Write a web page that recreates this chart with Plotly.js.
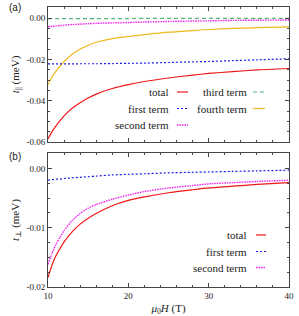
<!DOCTYPE html>
<html>
<head>
<meta charset="utf-8">
<script src="https://cdn.plot.ly/plotly-3.0.1.min.js"></script>
<style>html,body{margin:0;padding:0;background:#fff;}#chart{width:299px;height:316px;}</style>
</head>
<body>
<div id="chart"></div>
<script>
// Field values (T)
const H = [10, 10.5, 11, 11.5, 12, 13, 14, 15, 16, 18, 20, 22, 25, 28, 30, 33, 36, 40];

// Panel (a): t_parallel (meV)
const parTotal  = [-0.0585, -0.0550, -0.0522, -0.0497, -0.0474, -0.0437, -0.0410, -0.0387, -0.0368, -0.0341, -0.0322, -0.0307, -0.0290, -0.0276, -0.0268, -0.0259, -0.0251, -0.0244];
const parFirst  = [-0.0222, -0.0222, -0.0222, -0.0222, -0.0222, -0.0222, -0.0221, -0.0221, -0.0221, -0.0220, -0.0219, -0.0218, -0.0215, -0.0212, -0.0210, -0.0206, -0.0202, -0.0197];
const parSecond = [-0.0042, -0.0040, -0.0038, -0.0036, -0.0034, -0.0031, -0.0029, -0.0027, -0.0025, -0.0023, -0.0021, -0.0019, -0.0016, -0.0014, -0.0013, -0.0011, -0.0010, -0.0009];
const parThird  = [-0.0002, -0.0002, -0.0002, -0.0002, -0.0002, -0.0002, -0.0002, -0.0002, -0.0002, -0.0002, -0.0002, -0.0001, -0.0001, -0.0001, -0.0001, -0.0001, -0.0001, -0.0001];
const parFourth = [-0.0322, -0.0285, -0.0257, -0.0232, -0.0210, -0.0175, -0.0150, -0.0131, -0.0117, -0.0099, -0.0089, -0.0080, -0.0068, -0.0060, -0.0055, -0.0050, -0.0046, -0.0042];

// Panel (b): t_perp (meV)
const perpTotal  = [-0.0184, -0.0163, -0.0147, -0.0135, -0.0124, -0.0107, -0.0094, -0.0084, -0.0076, -0.0063, -0.0054, -0.0048, -0.0041, -0.0036, -0.0033, -0.0030, -0.0027, -0.0024];
const perpFirst  = [-0.0020, -0.0019, -0.0018, -0.0018, -0.0017, -0.0016, -0.0015, -0.0014, -0.0013, -0.0011, -0.0010, -0.0009, -0.00075, -0.00066, -0.00060, -0.00050, -0.00042, -0.0003];
const perpSecond = [-0.0162, -0.0143, -0.0128, -0.0116, -0.0105, -0.0088, -0.0076, -0.0067, -0.0061, -0.0052, -0.0045, -0.0039, -0.0033, -0.0029, -0.0026, -0.0024, -0.0022, -0.0020];

// Tick labels
const xTickVals = [10, 20, 30, 40];
const xTickText = ['10', '20', '30', '40'];
const yaTickVals = [0, -0.02, -0.04, -0.06];
const yaTickText = ['0.00', '-0.02', '-0.04', '-0.06'];
const ybTickVals = [0, -0.01, -0.02];
const ybTickText = ['0.00', '-0.01', '-0.02'];

const names = ['total', 'first term', 'second term', 'third term', 'fourth term'];

const C = {red: '#f01818', blue: '#1a1aee', mag: '#ee22ee', green: '#55b27a', yel: '#f0b81c'};
const S = {
  total:  {color: C.red,  width: 1.2, dash: 'solid'},
  first:  {color: C.blue, width: 1.2, dash: '2px,2px'},
  second: {color: C.mag,  width: 1.4, dash: '1.5px,1px'},
  third:  {color: C.green,width: 1.2, dash: '4px,3px'},
  fourth: {color: C.yel,  width: 1.2, dash: 'solid'}
};

function tr(y, xa, ya, st, nm) {
  return {x: H, y: y, xaxis: xa, yaxis: ya, type: 'scatter', mode: 'lines', name: nm,
          line: Object.assign({shape: 'spline', smoothing: 0.6}, st), showlegend: false, hoverinfo: 'skip'};
}

const data = [
  tr(parThird,  'x2', 'y2', S.third,  names[3]),
  tr(parFourth, 'x2', 'y2', S.fourth, names[4]),
  tr(parFirst,  'x2', 'y2', S.first,  names[1]),
  tr(parSecond, 'x2', 'y2', S.second, names[2]),
  tr(parTotal,  'x2', 'y2', S.total,  names[0]),
  tr(perpFirst, 'x', 'y', S.first,  names[1]),
  tr(perpSecond,'x', 'y', S.second, names[2]),
  tr(perpTotal, 'x', 'y', S.total,  names[0])
];

const serif = '"Liberation Serif", "DejaVu Serif", serif';
const axCol = '#444';
const tickFont = {family: serif, size: 9, color: '#222'};

function xax(showLabels, anchor) {
  return {range: [10, 40], tickvals: xTickVals, ticktext: xTickText, showticklabels: showLabels,
          ticks: 'inside', ticklen: 4, tickcolor: axCol, showline: true, linecolor: axCol, linewidth: 1,
          mirror: 'allticks', showgrid: false, zeroline: false, anchor: anchor, tickfont: tickFont,
          minor: {dtick: 2, ticks: 'inside', ticklen: 2, tickcolor: axCol, showgrid: false}};
}
function yax(range, tv, tt, mdt, dom, anchor, title) {
  return {range: range, domain: dom, tickvals: tv, ticktext: tt, ticks: 'inside', ticklen: 4, tickcolor: axCol,
          showline: true, linecolor: axCol, linewidth: 1, mirror: 'allticks', showgrid: false, zeroline: false,
          anchor: anchor, tickfont: tickFont,
          minor: {dtick: mdt, tick0: 0, ticks: 'inside', ticklen: 2, tickcolor: axCol, showgrid: false},
          title: {text: title, font: {family: serif, size: 11, color: '#222'}, standoff: 4}};
}

const layout = {
  width: 299, height: 316,
  margin: {l: 48, r: 10, t: 7, b: 29},
  paper_bgcolor: '#fff', plot_bgcolor: '#fff',
  showlegend: false,
  xaxis: Object.assign(xax(true, 'y'), {title: {text: '<i>μ</i><sub>0</sub><i>H</i> (T)', font: {family: serif, size: 11, color: '#222'}, standoff: 5}}),
  xaxis2: Object.assign(xax(false, 'y2'), {matches: 'x'}),
  yaxis: yax([-0.02, 0.0026], ybTickVals, ybTickText, 0.0025, [0, 0.4786], 'x', '<i>t</i><sub>⊥</sub> (meV)'),
  yaxis2: yax([-0.06, 0.0054], yaTickVals, yaTickText, 0.005, [0.518, 1], 'x2', '<i>t</i><sub>||</sub> (meV)'),
  annotations: [],
  shapes: []
};

// panel labels
layout.annotations.push({text: '(a)', xref: 'paper', yref: 'paper', x: -0.17, y: 1.0, xanchor: 'left', yanchor: 'middle', showarrow: false, font: {family: '"Liberation Sans", Arial, sans-serif', size: 10, color: '#222'}});
layout.annotations.push({text: '(b)', xref: 'paper', yref: 'paper', x: -0.17, y: 0.465, xanchor: 'left', yanchor: 'middle', showarrow: false, font: {family: '"Liberation Sans", Arial, sans-serif', size: 10, color: '#222'}});

// legend helpers (pixel -> paper)
const pl = 48, pw = 299 - 48 - 10, pt = 7, ph = 316 - 7 - 29;
function px(x) { return (x - pl) / pw; }
function py(y) { return 1 - (y - pt) / ph; }
function legItem(textRight, x0, x1, y, nm, st) {
  layout.annotations.push({text: nm, xref: 'paper', yref: 'paper', x: px(textRight), y: py(y), xanchor: 'right', yanchor: 'middle',
    showarrow: false, font: {family: serif, size: 11, color: '#222'}});
  layout.shapes.push({type: 'line', xref: 'paper', yref: 'paper', x0: px(x0), x1: px(x1), y0: py(y), y1: py(y),
    line: {color: st.color, width: st.width, dash: st.dash}});
}
// panel (a) legend
legItem(171, 177, 188, 92, names[0], S.total);
legItem(171, 177, 188, 108.5, names[1], S.first);
legItem(171, 177, 188, 125, names[2], S.second);
legItem(249, 253, 265, 92, names[3], S.third);
legItem(249, 253, 265, 108.5, names[4], S.fourth);
// panel (b) legend
legItem(249, 256, 266, 235, names[0], S.total);
legItem(249, 256, 266, 251.5, names[1], S.first);
legItem(249, 256, 266, 267.5, names[2], S.second);

Plotly.newPlot('chart', data, layout, {staticPlot: true, displayModeBar: false});
</script>
</body>
</html>
